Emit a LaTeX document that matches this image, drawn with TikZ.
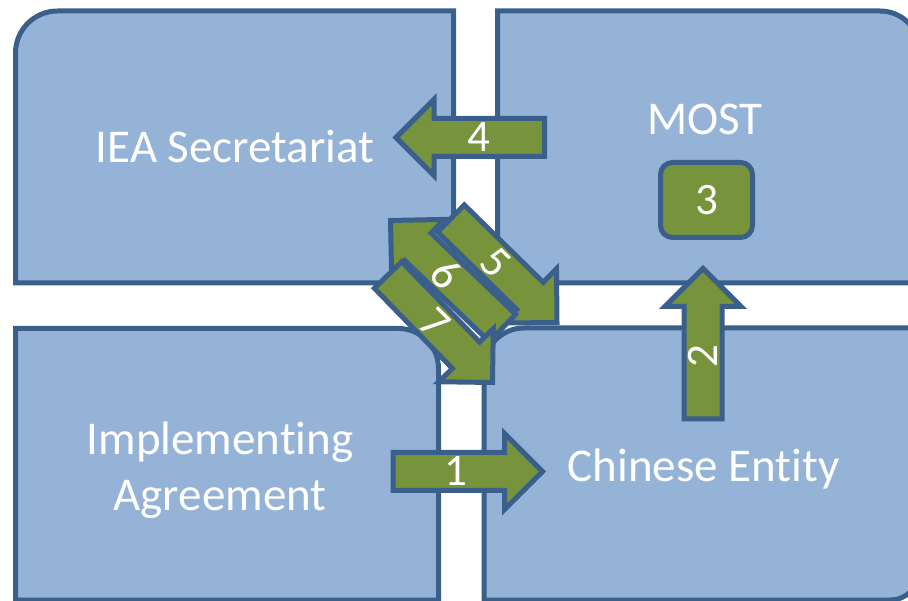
\documentclass[tikz,border=0pt]{standalone}
\usepackage{fontspec}
\setmainfont{Carlito}[Ligatures=NoCommon]
\usetikzlibrary{calc}
\definecolor{quadfill}{HTML}{95B3D7}
\definecolor{quadline}{HTML}{3A5F8B}
\definecolor{arrowgreen}{HTML}{77933C}
\tikzset{
  quadrant/.style={fill=quadfill, draw=quadline, line width=5pt},
  arrowshape/.style={fill=arrowgreen, draw=quadline, line width=5pt, line join=miter},
  quadtext/.style={text=white, font=\fontsize{47}{56}\selectfont, inner sep=0pt, align=center},
  numtext/.style={text=white, font=\fontsize{45}{54}\selectfont, inner sep=0pt},
  numbox/.style={numtext, fill=arrowgreen, draw=quadline, line width=5pt, rounded corners=12pt,
    minimum width=92pt, minimum height=75pt},
}
\newcommand{\blockarrow}[6]{%
  \coordinate (#1_t) at #2;
  \coordinate (#1_h) at #3;
  \coordinate (#1_b) at ($(#1_h)!38pt!(#1_t)$);
  \draw[arrowshape] ($(#1_t)!19pt!90:(#1_h)$) -- ($(#1_b)!19pt!90:(#1_h)$)
    -- ($(#1_b)!38pt!90:(#1_h)$) -- (#1_h) -- ($(#1_b)!38pt!-90:(#1_h)$)
    -- ($(#1_b)!19pt!-90:(#1_h)$) -- ($(#1_t)!19pt!-90:(#1_h)$) -- cycle;
  \node[numtext, rotate=#6] (#1) at ($(#1_t)!#5!(#1_h)$) {#4};
}
\begin{document}
\begin{tikzpicture}[x=1pt, y=1pt]
\useasboundingbox (0,0) rectangle (908,600);
\clip (0,0) rectangle (908,600);
\draw[quadrant] (15.5,317) -- (15.5,547) arc (180:90:42pt) -- (453.5,589) -- (453.5,317) -- cycle;
\draw[quadrant] (497.5,317) -- (497.5,589) -- (880,589) arc (90:0:40pt) -- (920,317) -- cycle;
\draw[quadrant] (15.5,0) -- (15.5,271.5) -- (398.5,271.5) arc (90:0:40pt) -- (438.5,0) -- cycle;
\draw[quadrant] (484,0) -- (484,232) arc (180:90:40pt) -- (920,272) -- (920,30) arc (0:-90:30pt) -- cycle;
\node[quadtext, anchor=base] (Q_0_0) at (235,437) {IEA Secretariat};
\node[quadtext, anchor=base] (Q_1_0) at (705,465) {MOST};
\node[quadtext] (Q_0_1) at (220,130) {Implementing\\Agreement};
\node[quadtext, anchor=base] (Q_1_1) at (703.5,118) {Chinese Entity};
\blockarrow{A_4}{(544.5,462.5)}{(396,462.5)}{4}{0.44}{0}
\blockarrow{A_1}{(393,128.5)}{(542.5,128.5)}{1}{0.42}{0}
\blockarrow{A_2}{(703,181)}{(703,331.5)}{2}{0.42}{90}
\node[numbox] (N_3) at (706.5,400) {3};
\blockarrow{A_5}{(451,381.5)}{(557,277.5)}{5}{0.42}{-45}
\blockarrow{A_6}{(502.5,272)}{(390.5,379.5)}{6}{0.5}{-45}
\blockarrow{A_7}{(388,325)}{(492.5,217.5)}{7}{0.45}{-45}
\end{tikzpicture}
\end{document}
